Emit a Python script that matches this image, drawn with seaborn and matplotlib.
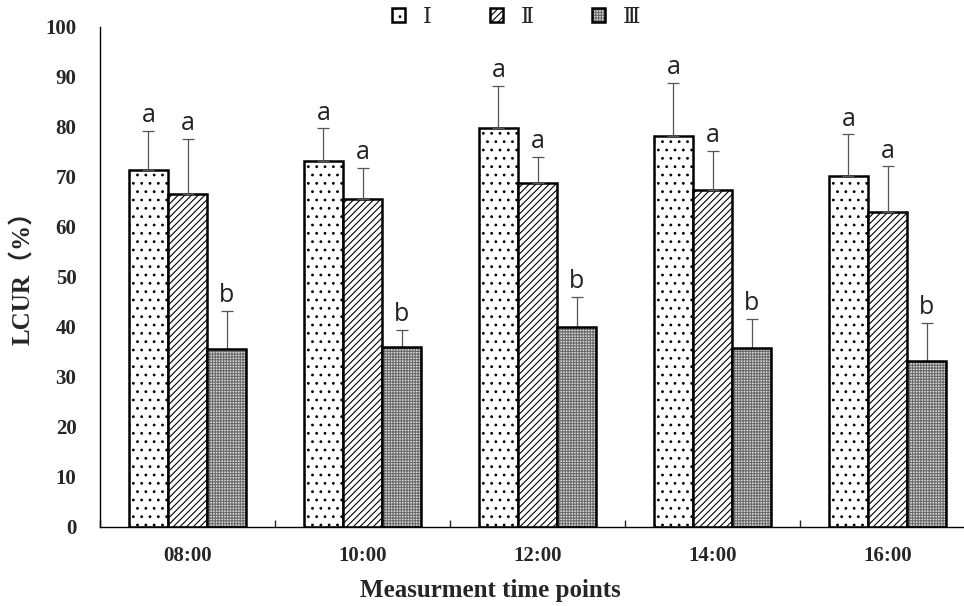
import numpy as np
import pandas as pd
import matplotlib
matplotlib.use('Agg')
import matplotlib.pyplot as plt
from matplotlib.patches import Patch, Rectangle
import seaborn as sns

# data
times = ['08:00', '10:00', '12:00', '14:00', '16:00']
groups = ['Ⅰ', 'Ⅱ', 'Ⅲ']
mean_I = [71.5, 73.3, 79.8, 78.2, 70.3]
mean_II = [66.7, 65.7, 68.9, 67.4, 63.0]
mean_III = [35.7, 36.0, 40.0, 35.8, 33.2]
err_I = [7.7, 6.5, 8.5, 10.6, 8.3]
err_II = [11.0, 6.2, 5.1, 7.8, 9.2]
err_III = [7.5, 3.5, 6.0, 5.9, 7.6]
letters_I = ['a', 'a', 'a', 'a', 'a']
letters_II = ['a', 'a', 'a', 'a', 'a']
letters_III = ['b', 'b', 'b', 'b', 'b']

means = [mean_I, mean_II, mean_III]
errs = [err_I, err_II, err_III]
letters = [letters_I, letters_II, letters_III]

df = pd.DataFrame({
    'time': np.tile(times, 3),
    'group': np.repeat(groups, len(times)),
    'value': np.concatenate(means),
})

sns.set_style('white')
serif = ['Liberation Serif', 'DejaVu Serif', 'Noto Sans CJK SC']
plt.rcParams['font.family'] = serif
plt.rcParams['hatch.linewidth'] = 0.8

fig = plt.figure(figsize=(9.64, 6.06), dpi=100)
ax = fig.add_axes([100 / 964, 79 / 606, 875 / 964, 500 / 606])

light = '#dcdcdc'
grid = '#6a6a6a'
sns.barplot(data=df, x='time', y='value', hue='group', order=times, hue_order=groups,
            width=0.67, palette=['white', 'white', light], edgecolor='black',
            linewidth=1.8, errorbar=None, legend=False, ax=ax, saturation=1)

hatches = ['..', '/////', '++++++']
bar_conts = list(ax.containers)
for k, cont in enumerate(bar_conts):
    for i, p in enumerate(cont.patches):
        p.set_hatch(hatches[k])
        if k == 2:
            # dark grid on light gray, then a black outline on top
            p.set_edgecolor(grid)
            p.set_linewidth(0)
            ax.add_patch(Rectangle(p.get_xy(), p.get_width(), p.get_height(),
                                   fill=False, ec='black', lw=1.8, zorder=p.get_zorder() + 0.1))
        xc = p.get_x() + p.get_width() / 2
        h = means[k][i]
        e = errs[k][i]
        ax.errorbar(xc, h, yerr=[[0], [e]], fmt='none', ecolor='#555555',
                    elinewidth=0.9, capsize=4.5, capthick=0.9, zorder=1)
        ax.text(xc, h + e + 0.5, letters[k][i], ha='center', va='bottom',
                fontsize=18, family='Open Sans', color='#222222')

ax.set_ylim(0, 100)
ax.set_xlim(-0.5, 4.5)
ax.set_yticks(np.arange(0, 101, 10))
ax.set_xticks(np.arange(-0.5, 4.6, 1), minor=True)
sns.despine(ax=ax)
for s in ['left', 'bottom']:
    ax.spines[s].set_linewidth(1.0)
    ax.spines[s].set_color('black')

ax.tick_params(axis='y', direction='in', length=5, width=1, pad=17, labelsize=15)
ax.tick_params(axis='x', which='major', length=0, pad=14, labelsize=15)
ax.tick_params(axis='x', which='minor', direction='in', length=5, width=1, bottom=True)
for lab in ax.get_xticklabels() + ax.get_yticklabels():
    lab.set_fontweight('bold')

ax.set_xlabel('Measurment time points', fontsize=18, fontweight='bold')
ax.xaxis.set_label_coords((490 - 100) / 875, -0.104)
ax.set_ylabel('LCUR（%）', fontsize=18, fontweight='bold')
ax.yaxis.set_label_coords(-0.074, 0.51)

handles = [
    Patch(facecolor='white', edgecolor='black', hatch='..', lw=1.8),
    Patch(facecolor='white', edgecolor='black', hatch='/////', lw=1.8),
    (Patch(facecolor=light, edgecolor=grid, hatch='++++++', lw=0),
     Patch(fill=False, edgecolor='black', lw=1.8)),
]
fig.legend(handles, groups, loc='center', bbox_to_anchor=(516 / 964, 1 - 18 / 606),
           ncol=3, frameon=False, handlelength=0.6, handleheight=0.6,
           columnspacing=2.6, handletextpad=0.8, prop={'family': serif, 'size': 16})

fig.savefig('out.png', dpi=100)
